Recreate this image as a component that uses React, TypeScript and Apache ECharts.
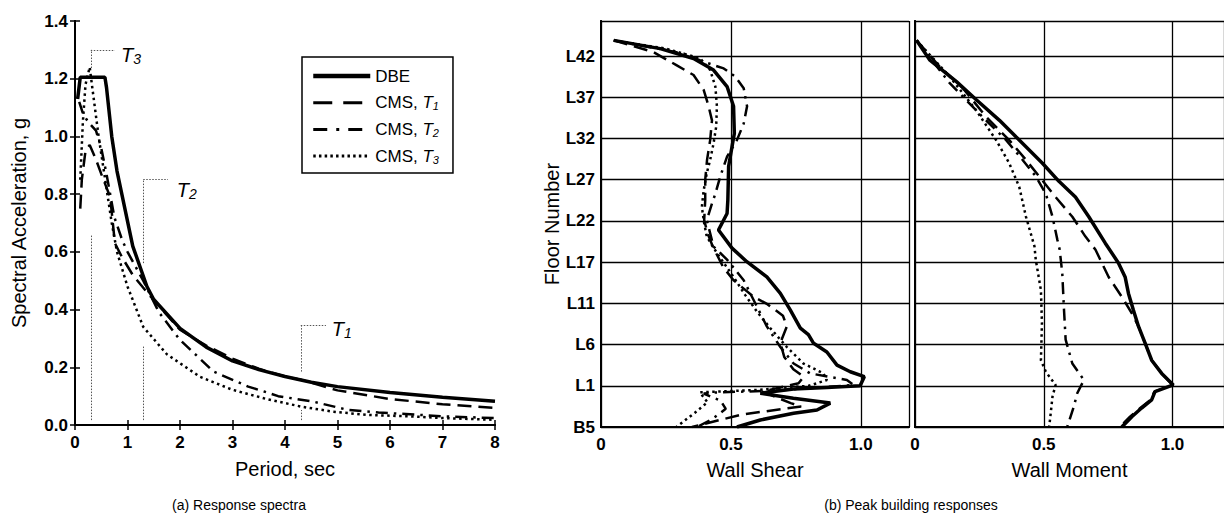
import React, { useEffect, useRef } from "react";
import * as echarts from "echarts";

// ---------- data ----------
const seriesNames = ["DBE", "CMS, T1", "CMS, T2", "CMS, T3"];

// (a) Response spectra: [period (s), Sa (g)]
const spectrumDBE = [[0.05,1.13],[0.1,1.205],[0.57,1.205],[0.6,1.17],[0.7,1.0],[0.8,0.88],[0.95,0.75],[1.1,0.62],[1.37,0.48],[1.5,0.435],[2,0.335],[2.5,0.27],[3,0.222],[3.5,0.192],[4,0.168],[4.5,0.148],[5,0.133],[6,0.113],[7,0.096],[8,0.082]];
const spectrumT1 = [[0.1,0.75],[0.13,0.85],[0.2,0.95],[0.28,0.97],[0.4,0.92],[0.5,0.87],[0.67,0.79],[0.76,0.63],[0.9,0.58],[1.1,0.52],[1.37,0.46],[2,0.33],[2.5,0.275],[3,0.23],[3.5,0.195],[4,0.168],[4.3,0.157],[5,0.12],[6,0.09],[7,0.072],[8,0.059]];
const spectrumT2 = [[0.08,1.12],[0.15,1.08],[0.25,1.05],[0.4,1.02],[0.5,0.96],[0.6,0.87],[0.75,0.72],[0.9,0.64],[1.0,0.6],[1.3,0.5],[1.6,0.39],[2,0.295],[2.64,0.185],[3.3,0.133],[3.62,0.115],[3.87,0.1],[4.54,0.081],[5.18,0.053],[5.78,0.043],[6.3,0.038],[7,0.03],[8,0.024]];
const spectrumT3 = [[0.1,0.85],[0.15,1.05],[0.2,1.18],[0.28,1.24],[0.35,1.14],[0.45,1.0],[0.55,0.88],[0.7,0.7],[0.8,0.6],[1.0,0.48],[1.3,0.34],[1.75,0.245],[2.38,0.167],[3,0.122],[3.65,0.09],[4.3,0.064],[4.92,0.046],[5.56,0.035],[6.5,0.029],[7,0.024],[8,0.018]];

// annotation leader lines: vertical [x, y1, y2], horizontal [y, x1, x2]; labels [subscript, x, y]
const annVertical = [[0.3,0.017,0.658],[0.3,1.237,1.3],[1.3,0.017,0.274],[1.3,0.561,0.852],[4.3,0.017,0.052],[4.3,0.185,0.346]];
const annHorizontal = [[1.3,0.3,0.76],[0.852,1.3,1.77],[0.346,4.3,4.78]];
const annLabels = [["3",1.067,1.282],["2",2.13,0.814],["1",5.08,0.334]];

// (b) Peak building responses: [normalized value, level index (5 per labelled floor)]
const floorLabels = ["B5","L1","L6","L11","L17","L22","L27","L32","L37","L42"];
const shearDBE = [[0.049,46.9],[0.228,45.9],[0.356,44.7],[0.433,43.3],[0.485,41.3],[0.51,38.9],[0.513,35.6],[0.504,34.0],[0.491,31.6],[0.488,27.5],[0.485,25.9],[0.452,23.9],[0.504,21.7],[0.561,20.05],[0.638,18.2],[0.69,16.2],[0.728,14.2],[0.767,12.0],[0.798,11.2],[0.818,10.15],[0.869,9.1],[0.908,7.5],[0.959,6.7],[1.013,6.1],[0.997,5.0],[0.869,4.8],[0.741,4.6],[0.613,4.1],[0.74,3.5],[0.882,2.9],[0.831,2.06],[0.741,1.66],[0.613,0.85],[0.523,0]];
const shearT1 = [[0.049,46.9],[0.2,45.5],[0.29,43.9],[0.356,42.7],[0.395,40.9],[0.414,38.9],[0.427,37.2],[0.42,34.8],[0.408,32.4],[0.401,30.0],[0.401,27.5],[0.397,25.1],[0.41,23.5],[0.43,21.9],[0.47,19.4],[0.51,17.8],[0.587,15.8],[0.64,14.9],[0.7,13.5],[0.715,12.2],[0.69,10.2],[0.705,8.5],[0.74,7.0],[0.78,6.1],[0.76,5.3],[0.62,4.3],[0.73,2.9],[0.77,2.5],[0.54,1.5],[0.35,0]];
const shearT2 = [[0.049,46.9],[0.318,45.3],[0.395,44.3],[0.472,43.5],[0.517,42.5],[0.549,41.1],[0.562,38.9],[0.549,36.8],[0.523,34.8],[0.485,32.8],[0.459,30.4],[0.44,28.3],[0.427,27.1],[0.407,25.1],[0.42,23.5],[0.433,21.9],[0.485,20.3],[0.549,17.8],[0.6,14.6],[0.638,12.2],[0.69,9.7],[0.741,7.7],[0.805,6.5],[0.946,5.7],[0.972,5.1],[0.664,4.4],[0.446,4.2],[0.395,4.05],[0.46,3.2],[0.48,2.2],[0.43,1.0],[0.37,0]];
const shearT3 = [[0.049,46.9],[0.25,45.9],[0.382,44.7],[0.42,43.3],[0.44,41.3],[0.446,38.9],[0.443,36.4],[0.433,34.4],[0.42,32.4],[0.407,30.8],[0.395,28.7],[0.388,26.7],[0.397,24.7],[0.407,23.1],[0.446,21.1],[0.51,18.2],[0.555,16.0],[0.6,14.0],[0.651,12.0],[0.715,9.7],[0.779,7.7],[0.856,6.5],[0.869,5.7],[0.8,5.0],[0.6,4.5],[0.38,4.2],[0.41,3.0],[0.36,1.7],[0.29,0]];
const momentDBE = [[0.006,46.9],[0.058,44.5],[0.161,41.9],[0.238,39.7],[0.328,37.2],[0.392,35.2],[0.495,32.0],[0.559,29.8],[0.623,27.9],[0.675,25.5],[0.739,22.3],[0.79,19.9],[0.816,18.2],[0.829,16.2],[0.848,14.2],[0.868,12.2],[0.894,10.15],[0.919,8.1],[0.958,6.5],[1.003,5.1],[0.932,4.3],[0.919,3.3],[0.88,2.3],[0.842,1.25],[0.803,0]];
const momentT1 = [[0.006,46.9],[0.096,43.7],[0.186,41.1],[0.277,37.6],[0.366,34.8],[0.431,32.4],[0.482,30.4],[0.546,27.9],[0.611,25.5],[0.662,23.1],[0.701,21.5],[0.752,18.2],[0.803,15.8],[0.842,13.8],[0.868,12.2],[0.894,10.15],[0.919,8.1],[0.958,6.5],[1.0,5.1],[0.93,4.3],[0.915,3.3],[0.875,2.3],[0.835,1.25],[0.795,0]];
const momentT2 = [[0.006,46.9],[0.135,41.7],[0.263,37.6],[0.354,34.8],[0.418,32.4],[0.469,30.4],[0.508,28.3],[0.534,25.5],[0.553,22.7],[0.562,21.5],[0.572,18.6],[0.578,14.6],[0.585,10.6],[0.611,7.7],[0.656,5.7],[0.63,4.1],[0.617,2.5],[0.591,0]];
const momentT3 = [[0.006,46.9],[0.135,42.5],[0.238,38.4],[0.315,34.8],[0.366,32.0],[0.405,29.1],[0.431,25.5],[0.464,21.9],[0.469,20.3],[0.489,16.6],[0.493,12.6],[0.489,8.1],[0.508,6.7],[0.546,5.1],[0.534,3.7],[0.527,1.66],[0.521,0]];

const FONT = "'Liberation Sans', Arial, Helvetica, sans-serif";

const lineStyles: any[] = [
  { type: "solid", width: 3.5 },
  { type: [14, 7], width: 2.5 },
  { type: [12, 6, 2.5, 6], width: 2.5 },
  { type: [2.5, 3.5], width: 2.5 },
];
const legendLineStyles: any[] = [
  { type: "solid", width: 4.5 },
  { type: [19, 11], width: 3 },
  { type: [14, 9, 3, 9], width: 3 },
  { type: [2.5, 3.2], width: 3 },
];

export default function App() {
  const ref = useRef<HTMLDivElement>(null);
  useEffect(() => {
    if (!ref.current) return;
    const chart = echarts.init(ref.current, undefined, { renderer: "svg" });

    const axisLine = { show: true, lineStyle: { color: "#000", width: 2 } };
    const tickLabel = { fontFamily: FONT, fontSize: 17, fontWeight: "bold" as const, color: "#000" };
    const nameStyle = { fontFamily: FONT, fontSize: 20, color: "#000" };
    const richT = {
      t: { fontFamily: FONT, fontSize: 20, fontStyle: "italic", color: "#000", lineHeight: 22 },
      s: { fontFamily: FONT, fontSize: 14, fontStyle: "italic", color: "#000", verticalAlign: "bottom", lineHeight: 12 },
    };

    const spectra = [spectrumDBE, spectrumT1, spectrumT2, spectrumT3];
    const shears = [shearDBE, shearT1, shearT2, shearT3];
    const moments = [momentDBE, momentT1, momentT2, momentT3];

    const mk = (d: number[][], i: number, xi: number, yi: number): any => ({
      name: seriesNames[i], type: "line", xAxisIndex: xi, yAxisIndex: yi, data: d,
      symbol: "none", color: "#000", itemStyle: { color: "#000" },
      lineStyle: { color: "#000", ...lineStyles[i] }, z: 5 - i,
    });

    const series: any[] = [];
    spectra.forEach((d, i) => {
      const s = mk(d, i, 0, 0);
      if (i === 0) {
        s.markLine = {
          silent: true, symbol: ["none", "none"], label: { show: false },
          lineStyle: { color: "#555", type: [1.5, 1.5], width: 1 },
          data: [
            ...annVertical.map(([x, y1, y2]) => [{ coord: [x, y1] }, { coord: [x, y2] }]),
            ...annHorizontal.map(([y, x1, x2]) => [{ coord: [x1, y] }, { coord: [x2, y] }]),
          ],
        };
        s.markPoint = {
          silent: true, symbol: "circle", symbolSize: 0,
          itemStyle: { color: "transparent" },
          data: annLabels.map(([sub, x, y]) => ({
            coord: [x, y],
            label: { show: true, position: "inside", formatter: `{t|T}{s|${sub}}`, rich: richT },
          })),
        };
      }
      series.push(s);
    });
    shears.forEach((d, i) => series.push(mk(d, i, 2, 2)));
    moments.forEach((d, i) => series.push(mk(d, i, 4, 4)));

    const floorFmt = (v: number) => (Number.isInteger(v / 5) ? floorLabels[v / 5] ?? "" : "");
    const normFmt = (v: number) => (v === 0 ? "0" : v.toFixed(1));
    const hiddenAxis = (pos: string, gridIndex: number, min: number, max: number, interval: number, ticks: boolean) => ({
      type: "value", gridIndex, position: pos, min, max, interval,
      axisLine, axisLabel: { show: false }, splitLine: { show: false },
      axisTick: { show: ticks, inside: true, length: 5, lineStyle: { color: "#000", width: 1.5 } },
    });

    const option: any = {
      animation: false,
      backgroundColor: "#fff",
      textStyle: { fontFamily: FONT },
      grid: [
        { left: 75, top: 21, width: 420, height: 404 },
        { left: 601, top: 21, width: 308, height: 406 },
        { left: 915, top: 21, width: 312, height: 406 },
      ],
      legend: {
        data: seriesNames.map((n, i) => ({ name: n, lineStyle: { color: "#000", ...legendLineStyles[i] } })),
        left: 302, top: 57,
        orient: "vertical",
        backgroundColor: "#fff",
        borderColor: "#000", borderWidth: 1.5, borderRadius: 0,
        padding: [10, 14, 8, 9],
        itemWidth: 57, itemHeight: 14, itemGap: 8.7,
        itemStyle: { color: "transparent", borderWidth: 0, opacity: 0 },
        textStyle: {
          fontFamily: FONT, fontSize: 17, color: "#000", lineHeight: 18,
          rich: {
            i: { fontFamily: FONT, fontSize: 17, fontStyle: "italic", color: "#000", lineHeight: 18 },
            s: { fontFamily: FONT, fontSize: 11, fontStyle: "italic", color: "#000", verticalAlign: "bottom", lineHeight: 10 },
          },
        },
        formatter: (name: string) => (name === "DBE" ? "DBE" : `CMS, {i|T}{s|${name.slice(-1)}}`),
        selectedMode: false,
      },
      xAxis: [
        {
          type: "value", gridIndex: 0, position: "bottom", min: 0, max: 8, interval: 1,
          name: "Period, sec", nameLocation: "middle", nameGap: 34, nameTextStyle: nameStyle,
          axisLine, splitLine: { show: false },
          axisTick: { show: true, inside: true, length: 5, lineStyle: { color: "#000", width: 1.5 } },
          axisLabel: { ...tickLabel, margin: 9 },
        },
        hiddenAxis("top", 0, 0, 8, 1, true),
        {
          type: "value", gridIndex: 1, position: "bottom", min: 0, max: 1.185, interval: 0.5,
          name: "Wall Shear", nameLocation: "middle", nameGap: 33, nameTextStyle: nameStyle,
          axisLine, axisTick: { show: false },
          splitLine: { show: true, lineStyle: { color: "#000", width: 1.3 } },
          axisLabel: { ...tickLabel, margin: 9, formatter: normFmt, showMaxLabel: false },
        },
        hiddenAxis("top", 1, 0, 1.185, 0.5, false),
        {
          type: "value", gridIndex: 2, position: "bottom", min: 0, max: 1.2, interval: 0.5,
          name: "Wall Moment", nameLocation: "middle", nameGap: 33, nameTextStyle: nameStyle,
          axisLine, axisTick: { show: false },
          splitLine: { show: true, lineStyle: { color: "#000", width: 1.3 } },
          axisLabel: { ...tickLabel, margin: 9, formatter: normFmt, showMaxLabel: false },
        },
        hiddenAxis("top", 2, 0, 1.2, 0.5, false),
      ],
      yAxis: [
        {
          type: "value", gridIndex: 0, position: "left", min: 0, max: 1.4, interval: 0.2,
          name: "Spectral Acceleration, g", nameLocation: "middle", nameGap: 46, nameTextStyle: nameStyle,
          axisLine, splitLine: { show: false },
          axisTick: { show: true, inside: true, length: 5, lineStyle: { color: "#000", width: 1.5 } },
          axisLabel: { ...tickLabel, margin: 7, formatter: (v: number) => v.toFixed(1) },
        },
        hiddenAxis("right", 0, 0, 1.4, 0.2, true),
        {
          type: "value", gridIndex: 1, position: "left", min: 0, max: 49.25, interval: 5,
          name: "Floor Number", nameLocation: "middle", nameGap: 37, nameTextStyle: nameStyle,
          axisLine, axisTick: { show: false },
          splitLine: { show: true, lineStyle: { color: "#000", width: 1.3 } },
          axisLabel: { ...tickLabel, margin: 6, formatter: floorFmt, showMaxLabel: false },
        },
        hiddenAxis("right", 1, 0, 49.25, 5, false),
        {
          type: "value", gridIndex: 2, position: "left", min: 0, max: 49.25, interval: 5,
          axisLine, axisTick: { show: false },
          splitLine: { show: true, lineStyle: { color: "#000", width: 1.3 } },
          axisLabel: { show: false },
        },
        hiddenAxis("right", 2, 0, 49.25, 5, false),
      ],
      graphic: [
        { type: "text", x: 239, y: 505, style: { text: "(a) Response spectra", font: `14px ${FONT}`, fill: "#000", align: "center", verticalAlign: "middle" } },
        { type: "text", x: 911, y: 505, style: { text: "(b) Peak building responses", font: `14px ${FONT}`, fill: "#000", align: "center", verticalAlign: "middle" } },
      ],
      series,
    };
    chart.setOption(option);
    return () => chart.dispose();
  }, []);
  return (
    <div
      ref={ref}
      style={{ position: "fixed", left: 0, top: 0, width: 1224, height: 526, background: "#fff" }}
    />
  );
}
